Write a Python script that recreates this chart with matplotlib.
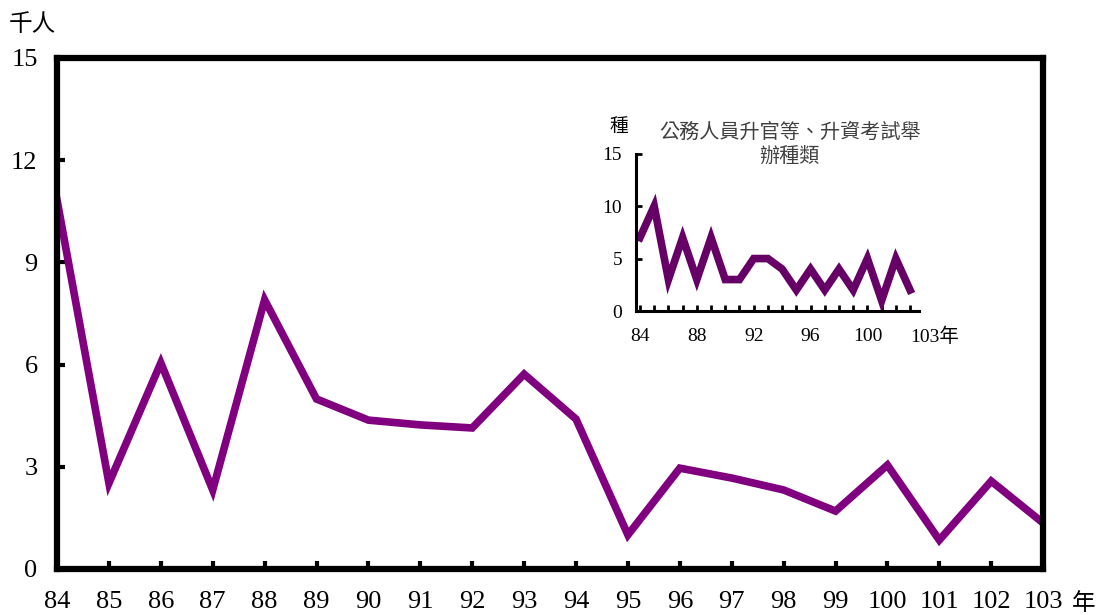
import matplotlib.pyplot as plt
import numpy as np

plt.rcParams['font.family'] = ['Liberation Serif', 'Noto Sans CJK TC']

# main series: thousand persons
years = list(range(84, 104))
persons = [10.83, 2.52, 6.05, 2.32, 7.9, 4.99, 4.37, 4.23, 4.14, 5.72,
           4.40, 1.0, 2.96, 2.67, 2.32, 1.70, 3.05, 0.85, 2.58, 1.35]

# inset series: number of exam types
kinds = [7, 10, 3, 7, 3, 7, 3, 3, 5, 5, 4, 2, 4, 2, 4, 2, 5, 1, 5, 2]
inset_ticks = [84, 88, 92, 96, 100]

main_color = '#800080'
inset_color = '#660066'

fig = plt.figure(figsize=(11.03, 6.15), dpi=100)
ax = fig.add_axes([0.0517, 0.0748, 0.894, 0.8309])

ax.plot(years, persons, color=main_color, lw=5.5, solid_joinstyle='miter')
ax.set_xlim(84, 103)
ax.set_ylim(0, 15)
ax.set_yticks([0, 3, 6, 9, 12, 15])
ax.set_xticks(years)
ax.set_xticklabels([str(y) for y in years])
for s in ax.spines.values():
    s.set_linewidth(4.5)
    s.set_color('black')
ax.tick_params(direction='in', length=6, width=3, labelsize=19, pad=14)
ax.tick_params(axis='x', pad=16)

fig.text(0.008, 0.96, '千人', fontsize=17, ha='left', va='center',
         family=['Noto Sans CJK TC'])
fig.text(0.972, 0.019, '年', fontsize=17, ha='left', va='center',
         family=['Noto Sans CJK TC'])

# inset
ins = fig.add_axes([0.5766, 0.4943, 0.2566, 0.2558])
ins.plot(years, kinds, color=inset_color, lw=5.5, solid_joinstyle='miter')
ins.set_xlim(83.72, 103.63)
ins.set_ylim(0, 15)
ins.set_yticks([0, 5, 10, 15])
ins.set_xticks(years)
ins.set_xticklabels([str(y) if y in inset_ticks else '' for y in years])
ins.spines['top'].set_visible(False)
ins.spines['right'].set_visible(False)
for s in ['left', 'bottom']:
    ins.spines[s].set_linewidth(2.2)
ins.tick_params(direction='in', length=4, width=2, labelsize=14, pad=10)
ins.tick_params(axis='x', pad=12)
ins.patch.set_alpha(0)

fig.text(0.553, 0.795, '種', fontsize=13.5, ha='left', va='center',
         family=['Noto Sans CJK TC'])
fig.text(0.8255, 0.452, '103年', fontsize=14, ha='left', va='center')
fig.text(0.716, 0.765, '公務人員升官等、升資考試舉\n辦種類', fontsize=14.5,
         ha='center', va='center', color='#404040', style='italic',
         linespacing=1.2, family=['Noto Sans CJK TC'])

fig.savefig('out.png', dpi=100)
